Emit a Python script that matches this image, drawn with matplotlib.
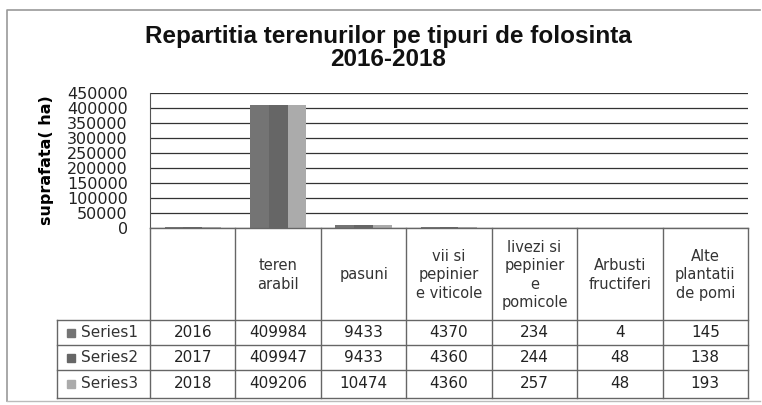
import numpy as np
import matplotlib.pyplot as plt

# date
categorii = ['', 'teren\narabil', 'pasuni', 'vii si\npepinier\ne viticole',
             'livezi si\npepinier\ne\npomicole', 'Arbusti\nfructiferi',
             'Alte\nplantatii\nde pomi']
serii = ['Series1', 'Series2', 'Series3']
s2016 = [2016, 409984, 9433, 4370, 234, 4, 145]
s2017 = [2017, 409947, 9433, 4360, 244, 48, 138]
s2018 = [2018, 409206, 10474, 4360, 257, 48, 193]
valori = [s2016, s2017, s2018]
culori = ['#747474', '#666666', '#ababab']
y_ticks = np.arange(0, 450001, 50000)

W, H = 762, 405
fig = plt.figure(figsize=(W / 100, H / 100), dpi=100)

# zona graficului (pixeli)
x0, x1, ytop, ybot = 150, 748, 93, 228
ax = fig.add_axes([x0 / W, 1 - ybot / H, (x1 - x0) / W, (ybot - ytop) / H])

x = np.arange(len(categorii))
w = 0.22
for i, (vals, c) in enumerate(zip(valori, culori)):
    ax.bar(x + (i - 1) * w, vals, width=w, color=c, zorder=2)

ax.set_xlim(-0.5, len(categorii) - 0.5)
ax.set_ylim(0, 450000)
ax.set_yticks(y_ticks)
ax.set_yticklabels([str(v) for v in y_ticks], fontsize=11.5, family='DejaVu Sans', color='#222222')
ax.tick_params(axis='y', length=0, pad=16)
ax.set_xticks([])
ax.yaxis.grid(True, color='#333333', linewidth=0.9, zorder=0)
for s in ['top', 'right', 'bottom']:
    ax.spines[s].set_visible(False)
ax.spines['left'].set_color('#555555')
ax.set_ylabel('suprafata( ha)', fontsize=11.5, fontweight='bold', family='DejaVu Sans')
ax.yaxis.set_label_coords(-0.16, 0.5)

# suprapunere pentru tabel si chenar
ov = fig.add_axes([0, 0, 1, 1])
ov.set_xlim(0, W)
ov.set_ylim(H, 0)
ov.axis('off')
ov.patch.set_alpha(0)

# chenar exterior
ov.plot([7, 7, 760], [401, 10, 10], color='#999999', lw=1.2)
ov.plot([7, 760], [401, 401], color='#bbbbbb', lw=1.0)

# titlu
ov.text(388, 37, 'Repartitia terenurilor pe tipuri de folosinta', ha='center', va='center',
        fontsize=17.5, fontweight='bold', family='Liberation Sans', color='#111111')
ov.text(388, 60, '2016-2018', ha='center', va='center',
        fontsize=17.5, fontweight='bold', family='Liberation Sans', color='#111111')

# tabel
col_x = np.linspace(x0, x1, len(categorii) + 1)
row_y = [228, 320, 345, 370, 398]
lc = '#666666'
ov.plot([x0, x1], [row_y[0], row_y[0]], color=lc, lw=1)
for yy in row_y[1:]:
    ov.plot([57, x1], [yy, yy], color=lc, lw=1)
for xx in col_x:
    ov.plot([xx, xx], [row_y[0], row_y[-1]], color=lc, lw=1)
ov.plot([57, 57], [row_y[1], row_y[-1]], color=lc, lw=1)

fnt = 'DejaVu Sans'
for j, cat in enumerate(categorii):
    cx = (col_x[j] + col_x[j + 1]) / 2
    ov.text(cx, (row_y[0] + row_y[1]) / 2 + 1, cat, ha='center', va='center',
            fontsize=10.5, family=fnt, color='#333333', linespacing=1.3)
    for i, vals in enumerate(valori):
        cy = (row_y[i + 1] + row_y[i + 2]) / 2
        ov.text(cx, cy, str(vals[j]), ha='center', va='center',
                fontsize=11, family=fnt, color='#222222')

for i, (nume, c) in enumerate(zip(serii, culori)):
    cy = (row_y[i + 1] + row_y[i + 2]) / 2
    ov.add_patch(plt.Rectangle((67, cy - 4), 8, 8, color=c))
    ov.text(81, cy, nume, ha='left', va='center', fontsize=11, family=fnt, color='#333333')

fig.savefig('out.png', dpi=100)
